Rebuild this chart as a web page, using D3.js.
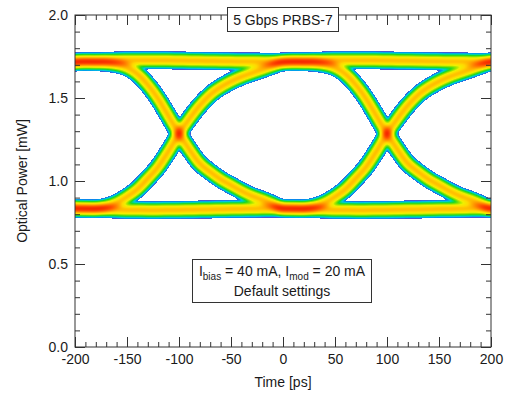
<!DOCTYPE html>
<html>
<head>
<meta charset="utf-8">
<script src="https://cdn.jsdelivr.net/npm/d3@7"></script>
<style>
  body { margin: 0; background: #fff; }
  text { font-family: Arial, "Liberation Sans", sans-serif; fill: #1a1a1a; }
</style>
</head>
<body>
<svg id="chart"></svg>
<script>
// axis ticks
const timeTicks = [-200, -150, -100, -50, 0, 50, 100, 150, 200];
const powerTicks = [0.0, 0.5, 1.0, 1.5, 2.0];

// bit boundaries (crossing points) in ps
const crossingTimes = [-300, -100, 100, 300];

const relTime   = [-100, -90, -80, -70, -60, -50, -40, -30, -20, -10, 0, 10, 20, 30, 40, 50, 60, 70, 80, 90, 100];
const risePower = [0.835, 0.833, 0.835, 0.845, 0.868, 0.905, 0.950, 1.015, 1.085, 1.180, 1.285, 1.375, 1.455, 1.520, 1.565, 1.600, 1.628, 1.650, 1.672, 1.694, 1.716];
const fallPower = [1.718, 1.718, 1.716, 1.712, 1.703, 1.685, 1.645, 1.580, 1.495, 1.390, 1.285, 1.190, 1.105, 1.055, 1.010, 0.975, 0.940, 0.910, 0.888, 0.862, 0.835];
const highPower = [1.718, 1.720, 1.722, 1.724, 1.726, 1.727, 1.728, 1.728, 1.728, 1.727, 1.726, 1.725, 1.724, 1.723, 1.722, 1.721, 1.720, 1.720, 1.719, 1.718, 1.718];
const lowPower  = [0.835, 0.834, 0.832, 0.830, 0.828, 0.826, 0.825, 0.824, 0.824, 0.825, 0.826, 0.827, 0.828, 0.829, 0.830, 0.831, 0.832, 0.833, 0.834, 0.835, 0.835];

// density colour scale (1 = one trace family)
const densityStops  = [0.02, 0.04, 0.08, 0.14, 0.22, 0.40, 0.60, 0.85, 1.20, 1.70, 2.20];
const densityColors = ["#5050d0", "#0090f0", "#00c8e0", "#00d880", "#20d820", "#90e400", "#f0f000", "#ffd800", "#ffa000", "#ff5000", "#f01000"];

const W = 506, H = 394;
const margin = {top: 15, right: 15, bottom: 47, left: 75};
const width = W - margin.left - margin.right,
      height = H - margin.top - margin.bottom;

const svg = d3.select("#chart").attr("width", W).attr("height", H);

const x = d3.scaleLinear().domain([-200, 200]).range([0, width]);
const y = d3.scaleLinear().domain([0, 2]).range([height, 0]);

// ---- eye density, accumulated on canvas ----
const pad = 24;
const cw = width + 2 * pad, ch = height + 2 * pad;
const work = document.createElement("canvas");
work.width = cw; work.height = ch;
const ctx = work.getContext("2d", {willReadFrequently: true});
const acc = new Float32Array(cw * ch);

const shapes = {"01": risePower, "10": fallPower, "11": highPower, "00": lowPower};
const line = d3.line()
    .x(d => x(d.t) + pad)
    .y(d => y(d.p) + pad)
    .curve(d3.curveMonotoneX)
    .context(ctx);

const nBits = crossingTimes.length + 1;
let unit = 0;
for (let code = 0; code < (1 << nBits); code++) {
    const bits = d3.range(nBits).map(i => (code >> (nBits - 1 - i)) & 1);
    const pts = [];
    crossingTimes.forEach((tc, i) => {
        const vals = shapes["" + bits[i] + bits[i + 1]];
        relTime.forEach((r, j) => {
            if (i > 0 && j === 0) return;
            pts.push({t: tc + r, p: vals[j]});
        });
    });
    ctx.clearRect(0, 0, cw, ch);
    ctx.filter = "blur(2.5px)";
    ctx.strokeStyle = "#fff";
    ctx.lineWidth = 8;
    ctx.lineJoin = "round";
    ctx.beginPath();
    line(pts);
    ctx.stroke();
    const img = ctx.getImageData(0, 0, cw, ch).data;
    let mx = 0;
    for (let k = 0; k < acc.length; k++) {
        const a = img[k * 4 + 3] / 255;
        acc[k] += a;
        if (a > mx) mx = a;
    }
    if (code === 0) unit = mx;
}

// one visible trace family = 8 of the 32 bit patterns
const norm = 8 * unit;
const vMax = 2.4;
const colorScale = d3.scaleLinear().domain(densityStops).range(densityColors).clamp(true);
const lut = d3.range(512).map(i => d3.rgb(colorScale(i / 511 * vMax)));

const out = document.createElement("canvas");
out.width = width; out.height = height;
const octx = out.getContext("2d");
const oimg = octx.createImageData(width, height);
for (let py = 0; py < height; py++) {
    for (let px = 0; px < width; px++) {
        const v = acc[(py + pad) * cw + (px + pad)] / norm;
        const o = (py * width + px) * 4;
        if (v < densityStops[0]) {
            oimg.data[o] = 255; oimg.data[o + 1] = 255; oimg.data[o + 2] = 255; oimg.data[o + 3] = 0;
            continue;
        }
        const c = lut[Math.min(511, Math.round(v / vMax * 511))];
        oimg.data[o] = c.r; oimg.data[o + 1] = c.g; oimg.data[o + 2] = c.b; oimg.data[o + 3] = 255;
    }
}
octx.putImageData(oimg, 0, 0);

const g = svg.append("g")
    .attr("transform", "translate(" + margin.left + "," + margin.top + ")");

g.append("image")
    .attr("x", 0).attr("y", 0)
    .attr("width", width).attr("height", height)
    .attr("href", out.toDataURL());

// ---- axes ----
const minorX = x.ticks(40), minorY = y.ticks(20);
const axisColor = "#333";

function styleAxis(sel) {
    sel.select(".domain").remove();
    sel.selectAll("line").attr("stroke", axisColor);
    sel.selectAll("text").style("font-size", "14px").attr("fill", "#1a1a1a");
}

g.append("g").attr("transform", "translate(0," + height + ")")
    .call(d3.axisBottom(x).tickValues(minorX).tickSize(-5).tickFormat("")).call(styleAxis);
g.append("g").attr("transform", "translate(0," + height + ")")
    .call(d3.axisBottom(x).tickValues(timeTicks).tickSize(-10).tickPadding(7).tickFormat(d => String(d)))
    .call(styleAxis);
g.append("g")
    .call(d3.axisTop(x).tickValues(minorX).tickSize(-5).tickFormat("")).call(styleAxis);
g.append("g")
    .call(d3.axisTop(x).tickValues(timeTicks).tickSize(-10).tickFormat("")).call(styleAxis);

g.append("g")
    .call(d3.axisLeft(y).tickValues(minorY).tickSize(-5).tickFormat("")).call(styleAxis);
g.append("g")
    .call(d3.axisLeft(y).tickValues(powerTicks).tickSize(-10).tickPadding(7).tickFormat(d3.format(".1f")))
    .call(styleAxis);
g.append("g").attr("transform", "translate(" + width + ",0)")
    .call(d3.axisRight(y).tickValues(minorY).tickSize(-5).tickFormat("")).call(styleAxis);
g.append("g").attr("transform", "translate(" + width + ",0)")
    .call(d3.axisRight(y).tickValues(powerTicks).tickSize(-10).tickFormat("")).call(styleAxis);

g.append("rect")
    .attr("width", width).attr("height", height)
    .attr("fill", "none").attr("stroke", axisColor).attr("stroke-width", 1);

// axis titles
svg.append("text")
    .attr("x", margin.left + width / 2).attr("y", 387)
    .attr("text-anchor", "middle").style("font-size", "14px")
    .text("Time [ps]");
svg.append("text")
    .attr("transform", "translate(27," + (margin.top + height / 2) + ") rotate(-90)")
    .attr("text-anchor", "middle").style("font-size", "14px")
    .text("Optical Power [mW]");

// title box
svg.append("rect")
    .attr("x", 227.5).attr("y", 7.5).attr("width", 111).attr("height", 24)
    .attr("fill", "#fff").attr("stroke", axisColor);
svg.append("text")
    .attr("x", 283).attr("y", 24.5)
    .attr("text-anchor", "middle").style("font-size", "14px")
    .text("5 Gbps PRBS-7");

// settings box
svg.append("rect")
    .attr("x", 192.5).attr("y", 259.5).attr("width", 179).attr("height", 43)
    .attr("fill", "#fff").attr("stroke", axisColor);
const t1 = svg.append("text")
    .attr("x", 282).attr("y", 276)
    .attr("text-anchor", "middle").style("font-size", "14px");
t1.append("tspan").text("I");
t1.append("tspan").attr("dy", 4).style("font-size", "10px").text("bias");
t1.append("tspan").attr("dy", -4).text(" = 40 mA, I");
t1.append("tspan").attr("dy", 4).style("font-size", "10px").text("mod");
t1.append("tspan").attr("dy", -4).text(" = 20 mA");
svg.append("text")
    .attr("x", 282).attr("y", 296)
    .attr("text-anchor", "middle").style("font-size", "14px")
    .text("Default settings");
</script>
</body>
</html>
